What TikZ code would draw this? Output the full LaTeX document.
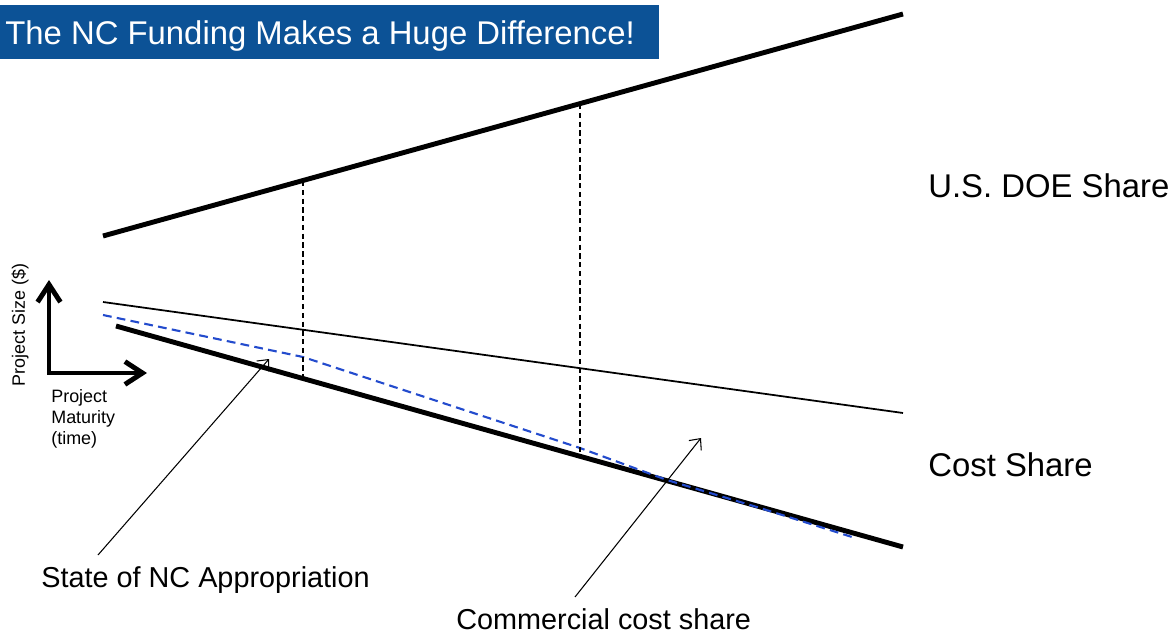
\documentclass[tikz,border=0pt]{standalone}
\usepackage{fontspec}
\setmainfont{Liberation Sans}
\usetikzlibrary{arrows.meta}
\definecolor{ncblue}{RGB}{12,82,150}
\definecolor{dashblue}{RGB}{35,75,205}

\begin{document}
\begin{tikzpicture}[x=0.02cm,y=-0.02cm,
    heavy/.style={line width=2.8pt},
    guide/.style={dash pattern=on 3pt off 2pt,line width=0.85pt},
    note/.style={line width=0.6pt,-{Straight Barb[length=5pt,width=9pt]}},
    caption/.style={inner sep=0pt,anchor=base west,font=\fontsize{18.7pt}{22pt}\selectfont},
    callout/.style={inner sep=0pt,anchor=base west,font=\fontsize{16.4pt}{19pt}\selectfont},
    axislabel/.style={inner sep=0pt,font=\fontsize{10.2pt}{11.9pt}\selectfont}]
    \useasboundingbox (0,0) rectangle (1174,635);

    % title bar
    \fill[ncblue] (0,5) rectangle (659,59);
    \node[caption,text=white] (title) at (5,45) {The NC Funding Makes a Huge Difference!};

    % end points of the three shares
    \coordinate (doeA) at (103,236);
    \coordinate (doeB) at (903,14);
    \coordinate (csA) at (103,302);
    \coordinate (csB) at (903,413);
    \coordinate (lowA) at (116,326);
    \coordinate (lowB) at (903,547);
    \draw[heavy] (doeA)--(doeB);
    \draw[line width=1pt] (csA)--(csB);
    \draw[heavy] (lowA)--(lowB);

    % NC appropriation
    \draw[dashblue,line width=1.2pt,dash pattern=on 5pt off 3pt]
        (103,315)--(303,357)--(580,448)--(667,480)--(760,508)--(852,537);

    % maturity steps
    \draw[guide] (303,181)--(303,378);
    \draw[guide] (580,104)--(580,456);

    % axes
    \coordinate (ytip) at (49,280);
    \coordinate (xtip) at (147,373);
    \draw[line width=2.8pt,line join=miter,{Straight Barb[length=10pt,width=13pt]}-{Straight Barb[length=10pt,width=13pt]}] (ytip) |- (xtip);
    \node[axislabel,rotate=90] (size) at (20,325) {Project Size (\$)};
    \node[axislabel,anchor=north west,align=left] (maturity) at (51,389) {Project\\Maturity\\(time)};

    % share labels
    \node[caption] (doe) at (928,197) {U.S. DOE Share};
    \node[caption] (cost) at (928,476) {Cost Share};

    % callouts
    \node[callout] (state) at (41,587) {State of NC Appropriation};
    \node[callout] (commercial) at (456,629) {Commercial cost share};
    \coordinate (stateFoot) at (98,555);
    \coordinate (stateTip) at (269,359);
    \coordinate (commFoot) at (575,597);
    \coordinate (commTip) at (701,438);
    \draw[note] (stateFoot)--(stateTip);
    \draw[note] (commFoot)--(commTip);
\end{tikzpicture}
\end{document}
